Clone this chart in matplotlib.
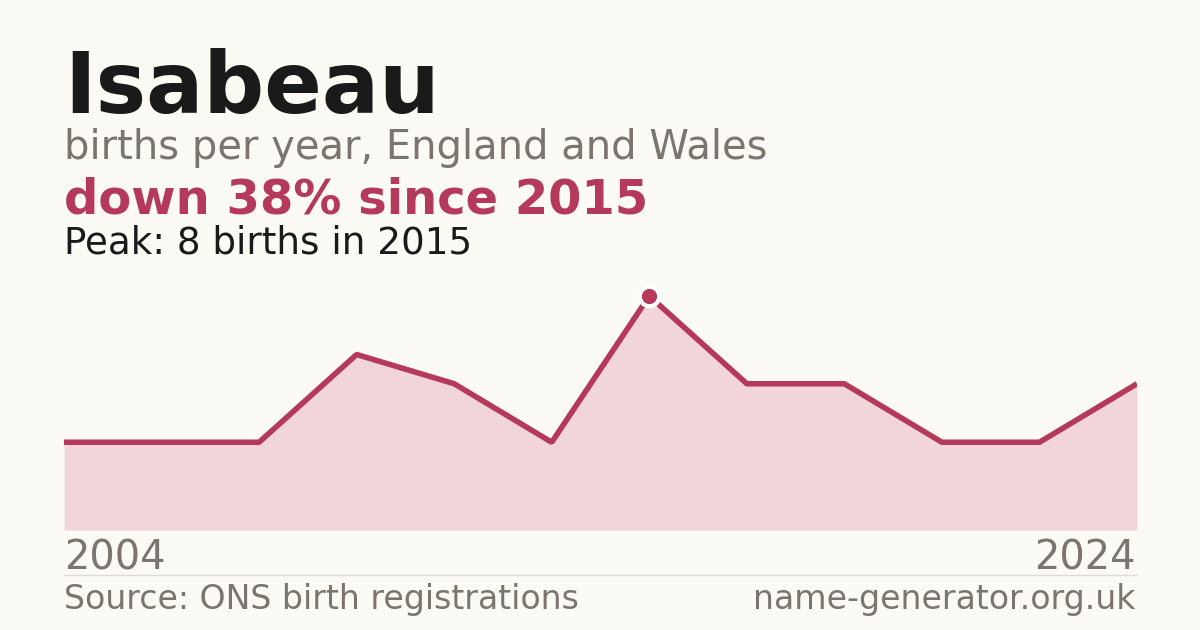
import matplotlib
matplotlib.use('Agg')
import matplotlib.pyplot as plt
import numpy as np

plt.rcParams['font.family'] = ['DejaVu Sans']

# births per year (Isabeau)
years = ['2004', '2006', '2008', '2010', '2012', '2013',
         '2015', '2017', '2019', '2021', '2023', '2024']
births = [3, 3, 3, 6, 5, 3, 8, 5, 5, 3, 3, 5]
peak_idx = 6

BG = '#fbfaf5'
RED = '#b5395a'
FILL = '#f2d5da'
GREY = '#7a756d'
INK = '#1a1a1a'

W, H = 1200, 630
fig = plt.figure(figsize=(W / 100, H / 100), dpi=100, facecolor=BG)


def px(size):
    # css-ish px -> points at dpi 100
    return size * 0.72


def put(x, y, s, **kw):
    fig.text(x / W, 1 - y / H, s, va='baseline', **kw)


put(64, 113, 'Isabeau', fontsize=px(85), fontweight='bold', color=INK)
put(64, 159, 'births per year, England and Wales', fontsize=px(40), color=GREY)
put(64, 214, 'down 38% since 2015', fontsize=px(48), fontweight='bold', color=RED)
put(64, 253, 'Peak: 8 births in 2015', fontsize=px(37.3), color=INK)

# plot area: x 64..1137, y bottom 530, top 280
left, right, bottom, top = 64, 1137, 530, 280
ax = fig.add_axes([left / W, 1 - bottom / H, (right - left) / W, (bottom - top) / H])
ax.set_facecolor('none')
xs = np.arange(len(births))
ymax = (bottom - top) / ((bottom - 296) / births[peak_idx])
ax.fill_between(xs, births, 0, color=FILL, lw=0)
ax.plot(xs, births, color=RED, lw=4, solid_joinstyle='bevel', solid_capstyle='butt')
ax.plot(xs[peak_idx], births[peak_idx], 'o', ms=14, mfc=RED, mec='white', mew=3,
        clip_on=False, zorder=5)
ax.set_xlim(xs[0], xs[-1])
ax.set_ylim(0, ymax)
ax.axis('off')

put(64, 570, years[0], fontsize=px(40), color=GREY)
put(1136, 570, years[-1], fontsize=px(40), color=GREY, ha='right')

fig.add_artist(plt.Line2D([64 / W, 1137 / W], [1 - 574.5 / H] * 2, color='#dedbd3', lw=1))

put(64, 609, 'Source: ONS birth registrations', fontsize=px(33.2), color=GREY)
put(1135, 609, 'name-generator.org.uk', fontsize=px(33.2), color=GREY, ha='right')

fig.savefig('out.png', dpi=100, facecolor=BG)
